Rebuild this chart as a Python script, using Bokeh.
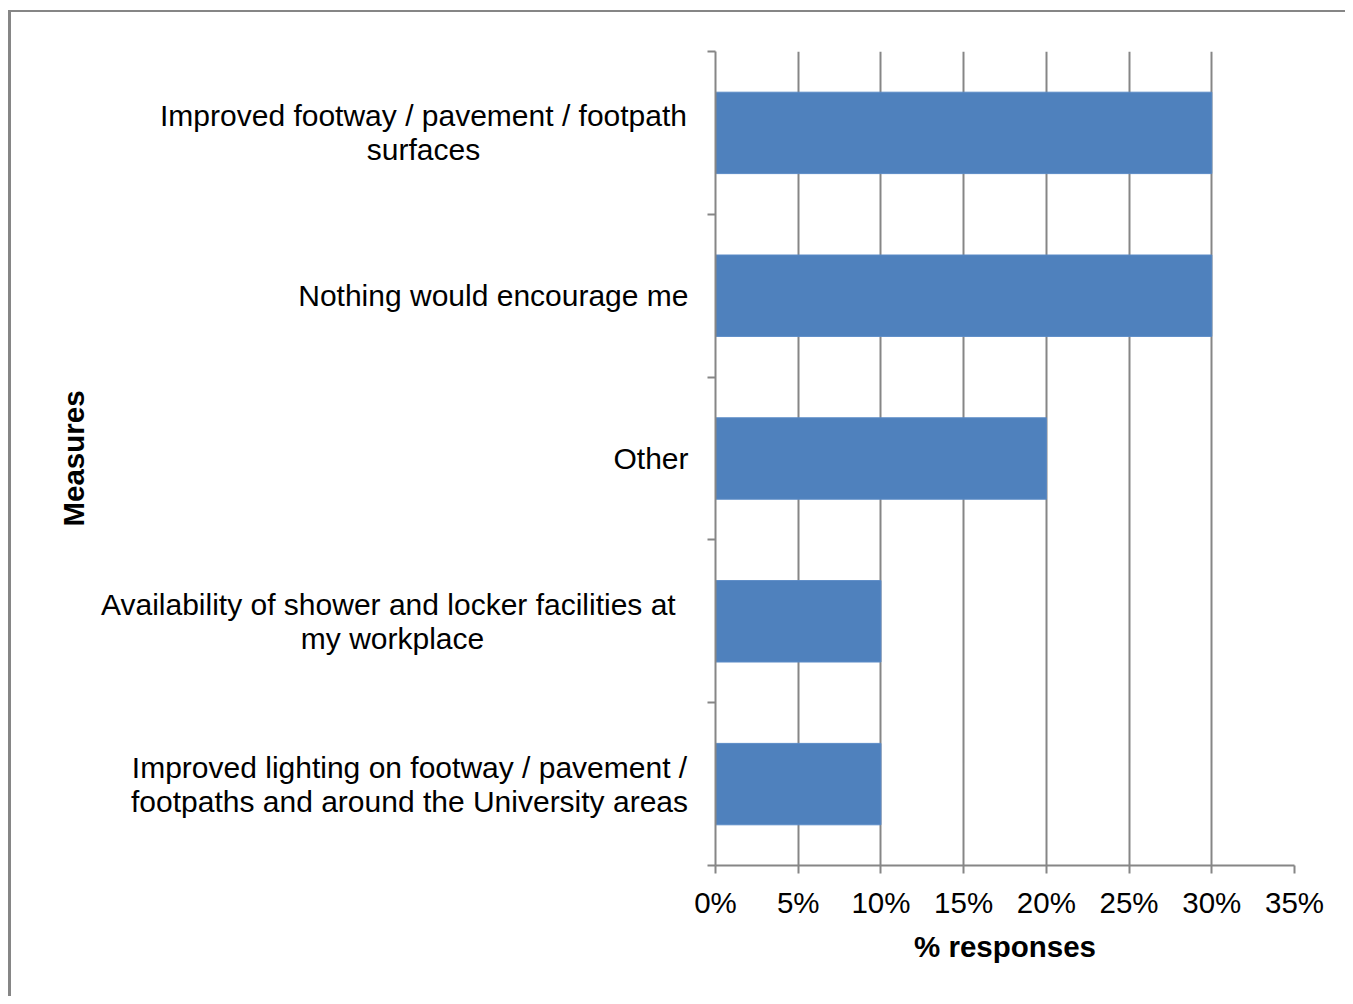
import math
from bokeh.plotting import figure
from bokeh.layouts import row
from bokeh.models import Range1d, FixedTicker, ColumnDataSource
from bokeh.core.properties import value
from bokeh.embed import file_html
from bokeh.resources import INLINE

# ---- data ----
categories = [
    "Improved footway / pavement / footpath\nsurfaces",
    "Nothing would encourage me",
    "Other",
    "Availability of shower and locker facilities at \nmy workplace",
    "Improved lighting on footway / pavement /\nfootpaths and around the University areas",
]
values = [30, 30, 20, 10, 10]
tick_values = [0, 5, 10, 15, 20, 25, 30, 35]
tick_labels = ["0%", "5%", "10%", "15%", "20%", "25%", "30%", "35%"]
x_title = "% responses"
y_title = "Measures"

# ---- style / layout ----
FONT = "Liberation Sans"
FS = "29.5px"
GRAY = "#868686"
BLUE = "#4F81BD"
TOTAL_W, TOTAL_H = 1345, 996
LEFT_W = 690
TOP, BOTTOM = 51, 131

n = len(categories)
centers = [n - i - 0.5 for i in range(n)]
yr = Range1d(0, n)

# ---- main bar chart ----
p = figure(width=TOTAL_W - LEFT_W, height=TOTAL_H, output_backend="svg", toolbar_location=None,
           x_range=Range1d(0, 35), y_range=yr,
           min_border_left=25, min_border_right=51, min_border_top=TOP, min_border_bottom=BOTTOM)
p.outline_line_color = None
p.background_fill_color = "white"
p.border_fill_color = None

src = ColumnDataSource(dict(y=centers, v=values))
p.hbar(y="y", right="v", left=0, height=0.5, source=src,
       fill_color=BLUE, line_color="#5A8AC6", line_width=1)

p.xaxis.ticker = FixedTicker(ticks=tick_values)
p.xaxis.major_label_overrides = {t: l for t, l in zip(tick_values, tick_labels)}
p.xaxis.axis_line_color = GRAY
p.xaxis.axis_line_width = 2
p.xaxis.major_tick_line_color = GRAY
p.xaxis.major_tick_line_width = 2
p.xaxis.major_tick_out = 8
p.xaxis.major_tick_in = 0
p.xaxis.minor_tick_line_color = None
p.xaxis.major_label_text_font = FONT
p.xaxis.major_label_text_font_size = FS
p.xaxis.major_label_text_color = "black"
p.xaxis.major_label_standoff = 12
p.xaxis.axis_label = x_title
p.xaxis.axis_label_text_font = FONT
p.xaxis.axis_label_text_font_size = FS
p.xaxis.axis_label_text_font_style = "bold"
p.xaxis.axis_label_text_color = "black"
p.xaxis.axis_label_standoff = 8

p.yaxis.ticker = FixedTicker(ticks=list(range(n + 1)))
p.yaxis.major_label_overrides = {i: "" for i in range(n + 1)}
p.yaxis.axis_line_color = GRAY
p.yaxis.axis_line_width = 2
p.yaxis.major_tick_line_color = GRAY
p.yaxis.major_tick_line_width = 2
p.yaxis.major_tick_out = 8
p.yaxis.major_tick_in = 0
p.yaxis.minor_tick_line_color = None
p.yaxis.major_label_standoff = 0

p.xgrid.grid_line_color = GRAY
p.xgrid.grid_line_width = 2
p.xgrid.ticker = FixedTicker(ticks=tick_values)
p.ygrid.grid_line_color = None

# ---- left panel: category labels and y title ----
q = figure(width=LEFT_W, height=TOTAL_H, output_backend="svg", toolbar_location=None,
           x_range=Range1d(0, LEFT_W), y_range=yr, x_axis_type=None, y_axis_type=None,
           min_border_left=0, min_border_right=0, min_border_top=TOP, min_border_bottom=BOTTOM)
q.outline_line_color = None
q.background_fill_color = None
q.border_fill_color = None
q.xgrid.grid_line_color = None
q.ygrid.grid_line_color = None

label_x = [423, 688, 688, 392, 409]
label_align = ["center", "right", "right", "center", "center"]
lab = ColumnDataSource(dict(x=label_x, y=centers, t=categories, a=label_align))
q.text(x="x", y="y", text="t", text_align="a", text_baseline="middle", source=lab,
       text_font=value(FONT), text_font_size=value("30px"), text_color="black",
       text_line_height=1.03)
q.text(x=[73], y=[n / 2], text=[y_title], angle=math.pi / 2, text_align="center",
       text_baseline="middle", text_font=value(FONT), text_font_size=value(FS),
       text_font_style="bold", text_color="black")

layout = row(q, p)
bg = ("linear-gradient(#868686,#868686) 8px 10px / 3px calc(100% - 10px) no-repeat, "
      "linear-gradient(#868686,#868686) 8px 10px / calc(100% - 8px) 2px no-repeat, white")
layout.styles = {"background": bg}

open("out.html", "w").write(file_html(layout, INLINE))
